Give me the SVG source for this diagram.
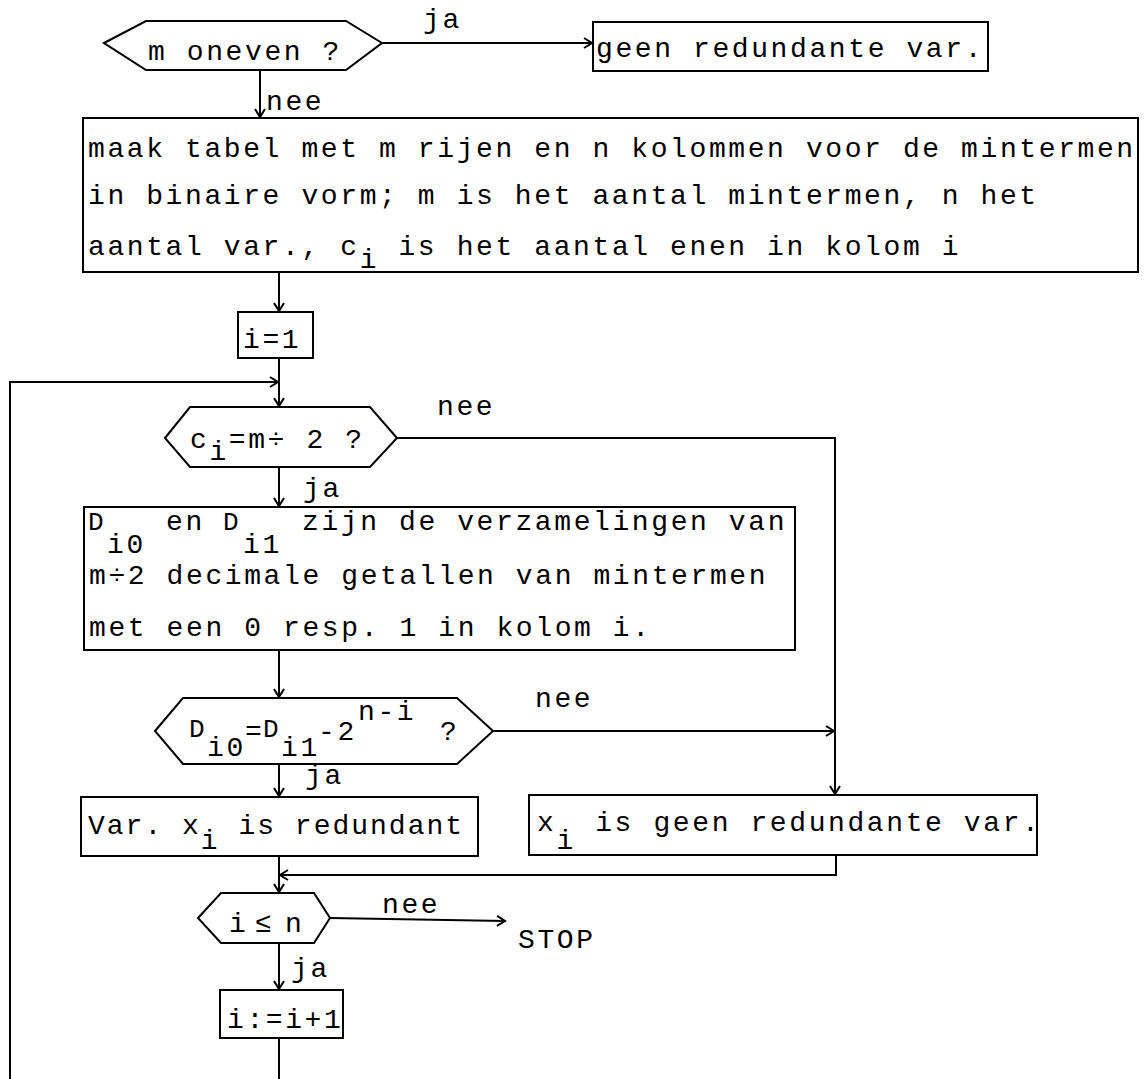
<svg xmlns="http://www.w3.org/2000/svg" width="1147" height="1079" viewBox="0 0 1147 1079">
  <style>
    .t { font-family: "Liberation Mono", "DejaVu Sans Mono", monospace; font-size: 28px; letter-spacing: 2.6px; fill: #000; }
    .d { font-size: 26px; }
    .v { letter-spacing: 2px; }
    .shape { fill: #fff; stroke: #000; stroke-width: 2; }
    .line { fill: none; stroke: #000; stroke-width: 2; }
  </style>
  <defs>
    <marker id="ah" markerUnits="userSpaceOnUse" markerWidth="14" markerHeight="14" refX="10" refY="6" orient="auto">
      <path d="M2,1 L10,6 L2,11" fill="none" stroke="#000" stroke-width="2"/>
    </marker>
  </defs>
  <rect width="1147" height="1079" fill="#fff"/>

  <!-- connectors and their labels -->
  <g id="connectors">
    <path class="line" d="M382,43 H592" marker-end="url(#ah)"/>
    <text class="t" x="423" y="28">ja</text>
    <path class="line" d="M260,70 V117" marker-end="url(#ah)"/>
    <text class="t" x="266" y="110">nee</text>
    <path class="line" d="M279,272 V311" marker-end="url(#ah)"/>
    <path class="line" d="M279,358 V406" marker-end="url(#ah)"/>
    <path class="line" d="M10,1079 V382 H278" marker-end="url(#ah)"/>
    <path class="line" d="M397,438 H835 V794" marker-end="url(#ah)"/>
    <text class="t" x="437" y="415">nee</text>
    <path class="line" d="M279,467 V506" marker-end="url(#ah)"/>
    <text class="t" x="303" y="497">ja</text>
    <path class="line" d="M279,650 V697" marker-end="url(#ah)"/>
    <path class="line" d="M493,731 H834" marker-end="url(#ah)"/>
    <text class="t" x="535" y="707">nee</text>
    <path class="line" d="M279,764 V796" marker-end="url(#ah)"/>
    <text class="t" x="305" y="784">ja</text>
    <path class="line" d="M279,856 V892" marker-end="url(#ah)"/>
    <path class="line" d="M836,855 V875 H280" marker-end="url(#ah)"/>
    <path class="line" d="M330,918 L505,921" marker-end="url(#ah)"/>
    <text class="t" x="382" y="913">nee</text>
    <text class="t" x="518" y="948">STOP</text>
    <path class="line" d="M279,943 V989" marker-end="url(#ah)"/>
    <text class="t" x="291" y="977">ja</text>
    <path class="line" d="M279,1038 V1079"/>
  </g>

  <!-- decision: m odd? -->
  <g id="dec-m-oneven">
    <polygon class="shape" points="104,43 146,21 346,21 382,43 346,70 146,70"/>
    <text class="t" x="148" y="60">m oneven ?</text>
  </g>

  <!-- no redundant variable -->
  <g id="box-geen-redundante">
    <rect class="shape" x="593" y="22" width="395" height="49"/>
    <text class="t" x="596" y="57">geen redundante var.</text>
  </g>

  <!-- build the minterm table -->
  <g id="box-tabel">
    <rect class="shape" x="83" y="118" width="1055" height="154"/>
    <text class="t" x="88" y="157">maak tabel met m rijen en n kolommen voor de mintermen</text>
    <text class="t" x="88" y="204">in binaire vorm; m is het aantal mintermen, n het</text>
    <text class="t" x="88" y="255">aantal var., c<tspan dy="13">i</tspan><tspan dy="-13"> is het aantal enen in kolom i</tspan></text>
  </g>

  <!-- i = 1 -->
  <g id="box-init">
    <rect class="shape" x="238" y="312" width="75" height="46"/>
    <text class="t" x="243" y="348">i=1</text>
  </g>

  <!-- decision: c_i = m/2 ? -->
  <g id="dec-ci">
    <polygon class="shape" points="165,438 190,407 370,407 397,438 370,467 190,467"/>
    <text class="t" x="190" y="448">c<tspan dy="12">i</tspan><tspan dy="-12">=m÷ 2 ?</tspan></text>
  </g>

  <!-- sets D_i0 and D_i1 -->
  <g id="box-verzamelingen">
    <rect class="shape" x="84" y="507" width="711" height="143"/>
    <text class="t" y="530"><tspan class="d" x="88">D</tspan><tspan x="107" y="553">i0 </tspan><tspan x="166" y="530">en </tspan><tspan class="d" x="223">D</tspan><tspan x="243" y="553">i1 </tspan><tspan x="302" y="530">zijn de verzamelingen van</tspan></text>
    <text class="t" x="89" y="584">m÷2 decimale getallen van mintermen</text>
    <text class="t" x="89" y="636">met een 0 resp. 1 in kolom i.</text>
  </g>

  <!-- decision: D_i0 = D_i1 - 2^(n-i) ? -->
  <g id="dec-verschil">
    <polygon class="shape" points="155,731 183,698 457,698 493,731 457,764 183,764"/>
    <text class="t" y="740"><tspan class="d" x="189" y="737">D</tspan><tspan x="207" y="756">i0</tspan><tspan x="245" y="740">=</tspan><tspan class="d" x="263" y="737">D</tspan><tspan x="281" y="756">i1</tspan><tspan x="318" y="740">-2</tspan><tspan x="358" y="720">n-i</tspan><tspan x="440" y="740">?</tspan></text>
  </g>

  <!-- x_i is redundant -->
  <g id="box-redundant">
    <rect class="shape" x="81" y="797" width="397" height="59"/>
    <text class="t v" x="88" y="834">Var. x<tspan dy="15">i</tspan><tspan dy="-15"> is redundant</tspan></text>
  </g>

  <!-- x_i is not redundant -->
  <g id="box-niet-redundant">
    <rect class="shape" x="529" y="795" width="508" height="60"/>
    <text class="t" x="537" y="831">x<tspan dy="18">i</tspan><tspan dy="-18"> is geen redundante var.</tspan></text>
  </g>

  <!-- decision: i <= n -->
  <g id="dec-i-n">
    <polygon class="shape" points="198,918 221,893 314,893 330,918 314,943 221,943"/>
    <text class="t" y="932"><tspan x="229">i</tspan><tspan x="255">≤</tspan><tspan x="285">n</tspan></text>
  </g>

  <!-- i := i + 1 -->
  <g id="box-increment">
    <rect class="shape" x="220" y="990" width="123" height="48"/>
    <text class="t" x="227" y="1028">i:=i+1</text>
  </g>
</svg>
